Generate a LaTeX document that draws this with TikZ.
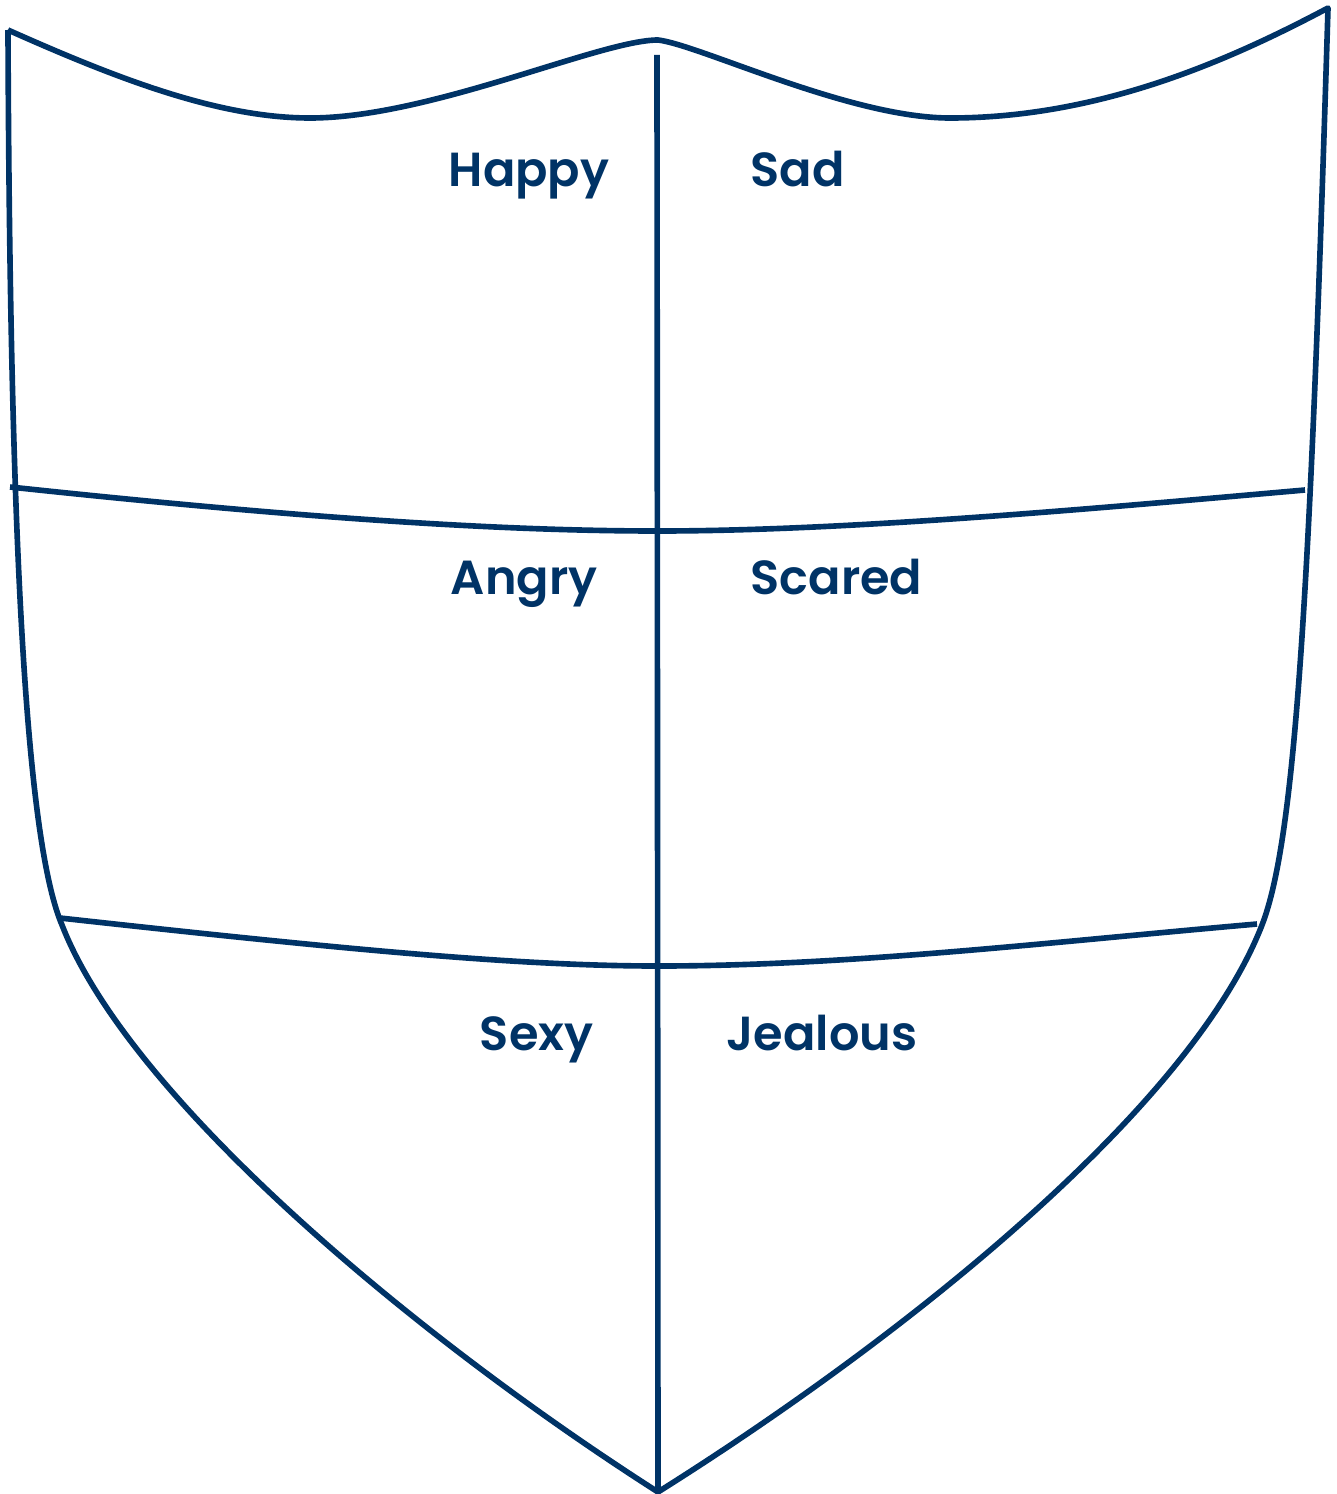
\documentclass[tikz,border=0pt]{standalone}
\usepackage{fontspec}
\setmainfont{Poppins}
\newfontfamily\feelfont{Poppins SemiBold}
\definecolor{shieldblue}{RGB}{0,51,102}
\tikzset{
  shieldline/.style={draw=shieldblue, line width=1.6pt, line join=round},
  feeling/.style={text=shieldblue, font=\feelfont\fontsize{13.6}{16}\selectfont, inner sep=0pt}
}
\begin{document}
\begin{tikzpicture}[x=0.01cm, y=-0.01cm]
      \useasboundingbox (0,0) rectangle (1336,1494);

      % corners of the shield
      \coordinate (tl)  at (8,30);
      \coordinate (tr)  at (1328,8);
      \coordinate (top) at (658,40);
      \coordinate (tip) at (658,1492);
      \coordinate (lk)  at (62,925);   % used to bend the left side
      \coordinate (rk)  at (1262,925); % used to bend the right side

      % ends of the cross lines
      \coordinate (a1) at (10,487);
      \coordinate (a2) at (658,531);
      \coordinate (a3) at (1305,490);
      \coordinate (b1) at (60,918);
      \coordinate (b2) at (658,966);
      \coordinate (b3) at (1257,924);
      \coordinate (v1) at (657,55);

      % NOTES
      \node[feeling, anchor=base east] (happy)   at (610,186)  {Happy};
      \node[feeling, anchor=base west] (sad)     at (750,186)  {Sad};
      \node[feeling, anchor=base east] (angry)   at (598,594)  {Angry};
      \node[feeling, anchor=base west] (scared)  at (750,594)  {Scared};
      \node[feeling, anchor=base east] (sexy)    at (594,1050) {Sexy};
      \node[feeling, anchor=base west] (jealous) at (726,1050) {Jealous};

      % OUTLINE
      \draw[shieldline] (tl) .. controls (120,80) and (220,118) .. (310,118)
        .. controls (430,118) and (600,40) .. (top)
        .. controls (700,45) and (850,118) .. (950,118)
        .. controls (1100,118) and (1230,60) .. (tr)
        .. controls (1310,600) and (1295,840) .. (rk)
        .. controls (1190,1110) and (900,1340) .. (tip)
        .. controls (420,1340) and (130,1100) .. (lk)
        .. controls (30,850) and (10,600) .. (tl);

      % LINES
      \draw[shieldline] (a1) .. controls (300,518) and (500,531) .. (a2)
        .. controls (850,531) and (1100,508) .. (a3);
      \draw[shieldline] (b1) .. controls (350,950) and (520,966) .. (b2)
        .. controls (850,966) and (1050,942) .. (b3);
      \draw[shieldline] (v1) -- (tip);

\end{tikzpicture}
\end{document}
